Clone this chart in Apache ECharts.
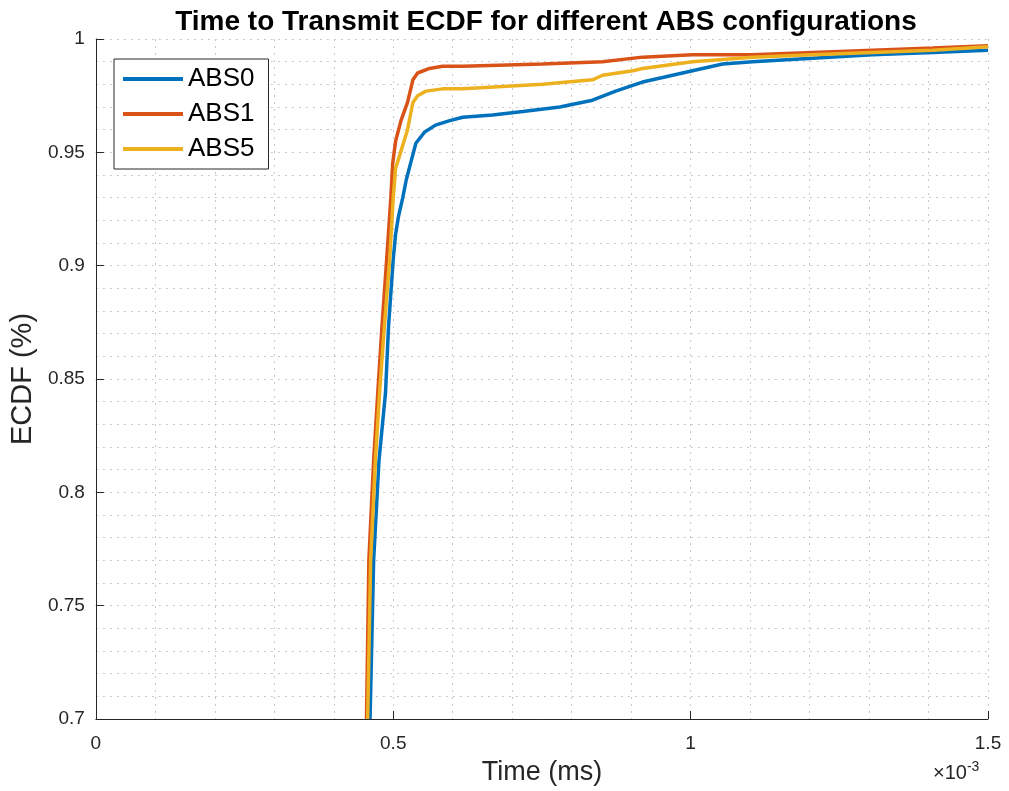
<!DOCTYPE html>
<html>
<head>
<meta charset="utf-8">
<script src="https://cdn.jsdelivr.net/npm/echarts@6/dist/echarts.min.js"></script>
<style>
  html, body { margin: 0; padding: 0; background: #fff; }
  #chart { width: 1009px; height: 791px; }
</style>
</head>
<body>
<div id="chart"></div>
<script>
// time values are in units of 1e-3 ms (axis shows x10^-3)
const abs0X = [0.461, 0.467, 0.476, 0.487, 0.492, 0.500, 0.504, 0.509, 0.516, 0.522, 0.529, 0.538, 0.553, 0.571, 0.595, 0.617, 0.667, 0.718, 0.780, 0.835, 0.874, 0.919, 0.953, 1.003, 1.054, 1.104, 1.205, 1.306, 1.407, 1.5];
const abs0Y = [0.700, 0.770, 0.814, 0.844, 0.873, 0.903, 0.914, 0.922, 0.930, 0.938, 0.945, 0.954, 0.959, 0.962, 0.964, 0.9655, 0.9665, 0.968, 0.970, 0.973, 0.977, 0.981, 0.983, 0.986, 0.989, 0.990, 0.9915, 0.993, 0.994, 0.995];

const abs1X = [0.455, 0.459, 0.467, 0.474, 0.481, 0.489, 0.496, 0.499, 0.504, 0.513, 0.524, 0.533, 0.541, 0.561, 0.583, 0.617, 0.751, 0.852, 0.919, 1.003, 1.104, 1.205, 1.306, 1.407, 1.5];
const abs1Y = [0.700, 0.770, 0.814, 0.844, 0.873, 0.903, 0.930, 0.945, 0.955, 0.964, 0.972, 0.982, 0.985, 0.987, 0.988, 0.988, 0.989, 0.990, 0.992, 0.993, 0.993, 0.994, 0.995, 0.996, 0.997];

const abs5X = [0.457, 0.462, 0.470, 0.477, 0.485, 0.494, 0.500, 0.504, 0.510, 0.524, 0.533, 0.541, 0.555, 0.583, 0.617, 0.751, 0.835, 0.852, 0.903, 0.919, 1.003, 1.104, 1.205, 1.306, 1.407, 1.5];
const abs5Y = [0.700, 0.770, 0.814, 0.844, 0.873, 0.903, 0.930, 0.943, 0.948, 0.960, 0.972, 0.975, 0.977, 0.978, 0.978, 0.980, 0.982, 0.984, 0.986, 0.987, 0.990, 0.992, 0.993, 0.994, 0.995, 0.9966];

const seriesNames = ["ABS0", "ABS1", "ABS5"];
const seriesColors = ["#0072BD", "#D95319", "#EDB120"];

function pairs(xs, ys) {
  let out = [];
  for (let i = 0; i < xs.length; i++) {
    out.push([xs[i], ys[i]]);
  }
  return out;
}

const chart = echarts.init(document.getElementById("chart"));
const font = "Liberation Sans, Arial, Helvetica, sans-serif";
const gridLine = { show: true, lineStyle: { color: "#c9c9c9", type: [2, 5], width: 1 } };

let lineSeries = [pairs(abs0X, abs0Y), pairs(abs1X, abs1Y), pairs(abs5X, abs5Y)].map(function (d, i) {
  return {
    name: seriesNames[i],
    type: "line",
    data: d,
    showSymbol: false,
    clip: true,
    color: seriesColors[i],
    lineStyle: { width: 3.5, color: seriesColors[i] }
  };
});

let option = {
  animation: false,
  backgroundColor: "#fff",
  title: {
    text: "Time to Transmit ECDF for different ABS configurations",
    left: 541,
    textAlign: "center",
    top: 3,
    textStyle: { fontFamily: font, fontSize: 28, fontWeight: "bold", color: "#000" }
  },
  legend: {
    data: seriesNames,
    orient: "vertical",
    left: 114,
    top: 59,
    icon: "rect",
    itemWidth: 60,
    itemHeight: 4,
    itemGap: 7,
    padding: [6, 14, 6, 9],
    borderColor: "#262626",
    borderWidth: 1,
    backgroundColor: "#fff",
    textStyle: { fontFamily: font, fontSize: 26, color: "#000", lineHeight: 28 }
  },
  grid: { left: 93, right: 21, top: 39, bottom: 72 },
  xAxis: {
    type: "value",
    min: 0,
    max: 1.5,
    interval: 0.5,
    name: "Time (ms)",
    nameLocation: "middle",
    nameGap: 40,
    nameTextStyle: { fontFamily: font, fontSize: 27, color: "#262626" },
    axisLine: { lineStyle: { color: "#262626", width: 1 } },
    axisTick: { inside: true, length: 8, lineStyle: { color: "#262626" } },
    axisLabel: { fontFamily: font, fontSize: 19, color: "#262626", margin: 15 },
    splitLine: gridLine,
    minorTick: { show: false, splitNumber: 5 },
    minorSplitLine: gridLine
  },
  yAxis: {
    type: "value",
    min: 0.7,
    max: 1,
    interval: 0.05,
    name: "ECDF (%)",
    nameLocation: "middle",
    nameGap: 50,
    nameTextStyle: { fontFamily: font, fontSize: 29, color: "#262626" },
    axisLine: { show: true, lineStyle: { color: "#262626", width: 1 } },
    axisTick: { show: true, inside: true, length: 8, lineStyle: { color: "#262626" } },
    axisLabel: {
      fontFamily: font, fontSize: 19, color: "#262626", margin: 11,
      formatter: function (v) { return String(Math.round(v * 100) / 100); }
    },
    splitLine: gridLine,
    minorTick: { show: false, splitNumber: 5 },
    minorSplitLine: gridLine
  },
  graphic: [
    {
      type: "text",
      left: 933,
      top: 760,
      style: {
        text: "×10{sup|-3}",
        fill: "#262626",
        font: "20px " + font,
        rich: { sup: { fontSize: 14, fontFamily: font, fill: "#262626", verticalAlign: "top", padding: [0, 0, 12, 0] } }
      }
    }
  ],
  series: lineSeries
};

chart.setOption(option);
</script>
</body>
</html>
